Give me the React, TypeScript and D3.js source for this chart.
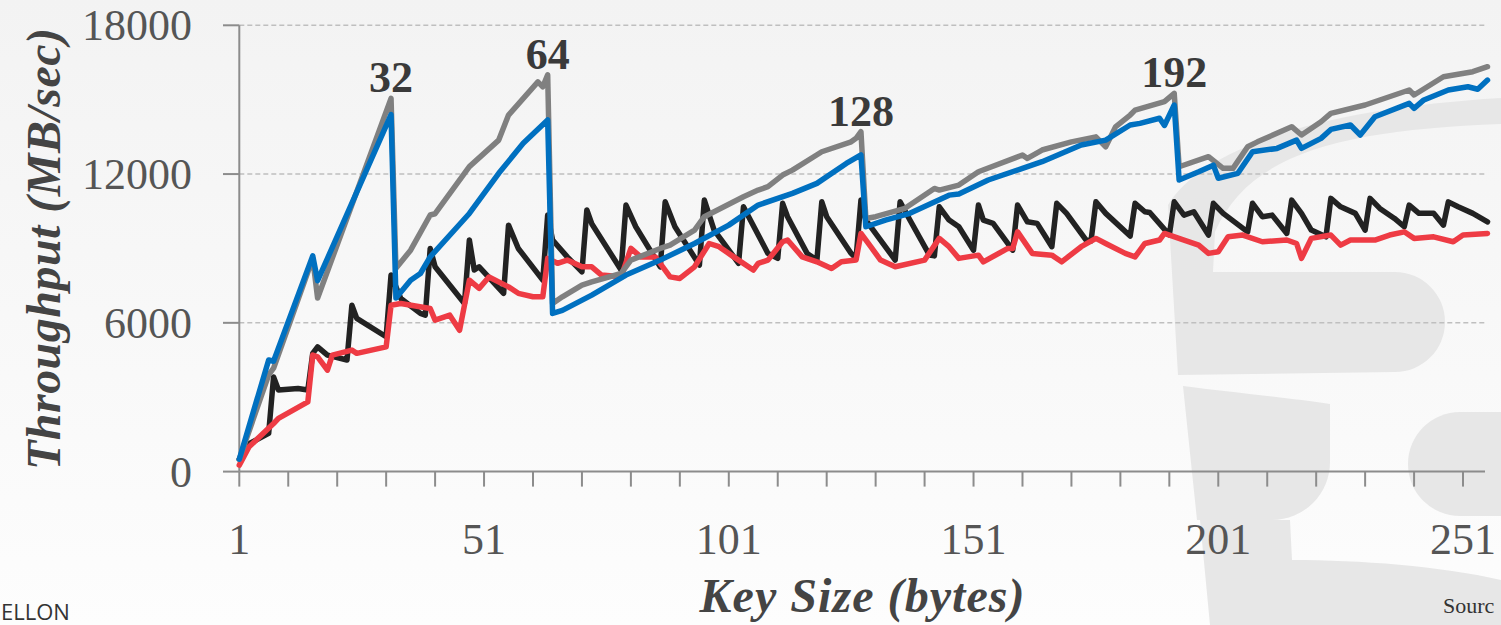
import * as d3 from 'd3'

// key size (bytes) -> throughput (MB/sec)
const blackSeries: [number, number][] = [
  [1, 500], [3, 1130], [7, 1540], [8, 3820], [9, 3290], [13, 3350], [15, 3290],
  [16, 4770], [17, 5030], [19, 4700], [23, 4500], [24, 6710], [25, 6180], [31, 5440],
  [32, 7930], [34, 6980], [38, 6380], [39, 6310], [40, 9000], [41, 8260], [47, 6780],
  [48, 9340], [49, 8130], [50, 8260], [55, 7190], [56, 9940], [58, 9000], [63, 7720],
  [64, 10350], [65, 9340], [68, 8660], [71, 8060], [72, 10550], [73, 10000], [79, 8130],
  [80, 10750], [82, 9875], [87, 8260], [88, 10880], [90, 9875], [95, 8330], [96, 10950],
  [98, 9740], [103, 8400], [104, 10680], [105, 10300], [109, 8800], [111, 8600],
  [112, 10820], [113, 10280], [117, 8800], [119, 8530], [120, 10880], [121, 10280],
  [126, 8800], [127, 8600], [128, 10950], [129, 10145], [132, 9340], [135, 8530],
  [136, 10880], [138, 10145], [142, 8730], [143, 8700], [144, 10680], [146, 10145],
  [148, 9875], [151, 8930], [152, 10750], [153, 10145], [155, 10010], [159, 8930],
  [160, 10750], [162, 10075], [164, 10010], [167, 9070], [168, 10820], [170, 10415],
  [174, 9340], [175, 9300], [176, 10880], [178, 10415], [183, 9500], [184, 10820],
  [186, 10480], [187, 10450], [191, 9550], [192, 10880], [194, 10345], [196, 10480],
  [199, 9540], [200, 10820], [202, 10415], [207, 9670], [208, 10820], [210, 10280],
  [212, 10345], [215, 9605], [216, 10950], [218, 10415], [220, 9740], [223, 9470],
  [224, 11020], [226, 10680], [229, 10415], [231, 9740], [232, 11020], [234, 10615],
  [237, 10210], [239, 9875], [240, 10750], [242, 10415], [245, 10415], [247, 9940],
  [248, 10880], [250, 10680], [253, 10415], [256, 10075],
]

const redSeries: [number, number][] = [
  [1, 260], [3, 1000], [8, 1940], [9, 2150], [15, 2810], [16, 4700], [17, 4630],
  [19, 4090], [20, 4700], [24, 4900], [25, 4770], [31, 5030], [32, 6710], [34, 6780],
  [40, 6580], [41, 6110], [44, 6310], [46, 5700], [48, 7720], [50, 7390], [52, 7850],
  [56, 7450], [58, 7190], [61, 7050], [63, 7050], [64, 8600], [66, 8400], [68, 8530],
  [71, 8260], [73, 8260], [75, 7925], [79, 7855], [81, 9000], [83, 8660], [86, 8660],
  [89, 7855], [91, 7790], [94, 8260], [97, 9200], [99, 9070], [102, 8660], [106, 8130],
  [107, 8400], [109, 8530], [112, 9270], [113, 9340], [116, 8660], [119, 8460],
  [122, 8195], [124, 8460], [127, 8530], [128, 9605], [130, 9070], [132, 8530],
  [135, 8260], [141, 8530], [144, 9405], [146, 9070], [148, 8600], [152, 8730],
  [153, 8460], [158, 9000], [159, 9000], [160, 9670], [163, 8800], [167, 8730],
  [169, 8460], [173, 9070], [176, 9405], [178, 9200], [182, 8800], [184, 8660],
  [186, 9200], [189, 9340], [190, 9605], [194, 9340], [197, 9135], [199, 8800],
  [201, 8865], [203, 9470], [206, 9540], [210, 9270], [215, 9340], [217, 9200],
  [218, 8600], [220, 9405], [224, 9540], [226, 9135], [228, 9340], [233, 9340],
  [236, 9540], [239, 9670], [241, 9405], [245, 9470], [249, 9270], [251, 9540],
  [256, 9605],
]

const graySeries: [number, number][] = [
  [1, 500], [7, 3900], [8, 4170], [16, 8600], [17, 7000], [32, 15050], [33, 8200],
  [36, 8930], [40, 10350], [41, 10400], [48, 12300], [54, 13370], [56, 14380],
  [62, 15720], [63, 15520], [64, 16000], [65, 6780], [67, 7050], [71, 7520], [73, 7650],
  [79, 7990], [81, 8530], [87, 9000], [89, 9135], [94, 9740], [96, 10280], [104, 11085],
  [107, 11355], [109, 11490], [112, 11960], [114, 12160], [120, 12900], [126, 13300],
  [127, 13440], [128, 13707], [129, 10210], [131, 10280], [137, 10620], [143, 11420],
  [144, 11355], [148, 11556], [152, 12093], [161, 12770], [162, 12630], [165, 12970],
  [171, 13300], [176, 13500], [178, 13100], [180, 13900], [183, 14380], [184, 14580],
  [190, 14920], [192, 15255], [193, 12295], [199, 12700], [202, 12230], [204, 12230],
  [207, 13100], [209, 13300], [216, 13910], [218, 13575], [222, 14110], [224, 14450],
  [231, 14785], [240, 15390], [241, 15190], [247, 15925], [253, 16130], [256, 16330],
]

const blueSeries: [number, number][] = [
  [1, 500], [7, 4500], [8, 4450], [16, 8700], [17, 7700], [32, 14400], [33, 7000],
  [36, 7720], [38, 7990], [40, 8660], [48, 10410], [54, 12030], [59, 13240], [64, 14180],
  [65, 6380], [67, 6500], [73, 7120], [80, 7925], [87, 8530], [94, 9200], [101, 9940],
  [107, 10750], [114, 11220], [119, 11625], [125, 12430], [128, 12770], [129, 9875],
  [133, 10145], [138, 10415], [146, 11150], [148, 11200], [154, 11760], [161, 12230],
  [165, 12500], [173, 13170], [178, 13370], [183, 13980], [185, 14045], [189, 14250],
  [190, 13960], [192, 14785], [193, 11760], [197, 12090], [200, 12360], [201, 11830],
  [205, 12030], [208, 12900], [213, 13035], [217, 13370], [218, 13035], [222, 13440],
  [224, 13800], [228, 13980], [230, 13575], [233, 14310], [240, 14850], [241, 14650],
  [243, 14990], [248, 15390], [252, 15520], [254, 15420], [256, 15790],
]

const peakLabels = [32, 64, 128, 192]
const yTicks = [0, 6000, 12000, 18000]
const xTickLabels = [1, 51, 101, 151, 201, 251]

const W = 1501
const H = 625
const serif = '"Liberation Serif", "DejaVu Serif", serif'

const x = d3.scaleLinear().domain([1, 256]).range([239.3, 1487.5])
const y = d3.scaleLinear().domain([0, 18000]).range([471.6, 25.3])

const line = d3.line<[number, number]>()
  .x(d => x(d[0]))
  .y(d => y(d[1]))

const xMinor = d3.range(1, 256, 10)

const series = [
  { data: blackSeries, color: '#222222' },
  { data: redSeries, color: '#ee3b44' },
  { data: graySeries, color: '#808080' },
  { data: blueSeries, color: '#0070c0' },
]

const App = () => {
  return (
    <svg width={W} height={H} style={{ position: 'absolute', left: 0, top: 0, display: 'block' }}>
      <defs>
        <linearGradient id='bg' x1='0' y1='0' x2='0' y2='1'>
          <stop offset='0%' stopColor='#f3f3f3' />
          <stop offset='100%' stopColor='#fdfdfd' />
        </linearGradient>
      </defs>
      <rect x={0} y={0} width={W} height={H} fill='url(#bg)' />

      {/* faint logo watermark */}
      <g fill='#e7e7e7'>
        <path d='M1168,205 C1205,145 1330,108 1501,98 L1501,124 C1350,130 1250,150 1215,232 L1213,272 L1395,272 A50,50 0 0 1 1395,372 L1178,375 Z' />
        <path d='M1183,386 C1230,392 1290,398 1330,404 L1330,462 A58,58 0 0 1 1272,520 L1197,520 Z' />
        <path d='M1501,412 L1460,412 A52,52 0 0 0 1460,516 L1501,516 Z' />
        <path d='M1200,520 L1290,520 L1292,560 C1360,560 1440,566 1501,580 L1501,625 L1210,625 Z' />
      </g>

      {/* grid */}
      {yTicks.filter(t => t > 0).map(t => (
        <line key={t} x1={x(1)} x2={1485} y1={y(t)} y2={y(t)}
          stroke='#bfbfbf' strokeWidth={1.5} strokeDasharray='5,3' />
      ))}

      {/* axes */}
      <line x1={x(1)} x2={x(1)} y1={y(18000)} y2={y(0)} stroke='#8c8c8c' strokeWidth={2} />
      <line x1={x(1)} x2={1485} y1={y(0)} y2={y(0)} stroke='#8c8c8c' strokeWidth={2} />
      {yTicks.map(t => (
        <g key={t}>
          <line x1={223} x2={x(1)} y1={y(t)} y2={y(t)} stroke='#8c8c8c' strokeWidth={2} />
          <text x={192} y={y(t) + 15} textAnchor='end' fontFamily={serif} fontSize={44} fill='#555'>{t}</text>
        </g>
      ))}
      {xMinor.map(k => (
        <line key={k} x1={x(k)} x2={x(k)} y1={y(0)} y2={y(0) + 15} stroke='#8c8c8c' strokeWidth={2} />
      ))}
      {xTickLabels.map(k => (
        <text key={k} x={x(k)} y={554} textAnchor='middle' fontFamily={serif} fontSize={44} fill='#555'>{k}</text>
      ))}

      {/* lines */}
      {series.map((s, i) => (
        <path key={i} d={line(s.data) ?? ''} fill='none' stroke={s.color}
          strokeWidth={5.5} strokeLinejoin='round' strokeLinecap='round' />
      ))}

      {/* peak labels */}
      {peakLabels.map(k => {
        const v = graySeries.find(d => d[0] === k)?.[1] ?? 0
        return (
          <text key={k} x={x(k)} y={y(v) - 6} textAnchor='middle' fontFamily={serif}
            fontWeight='bold' fontSize={44} fill='#3a3a3a'>{k}</text>
        )
      })}

      {/* axis titles */}
      <text transform='translate(60,249) rotate(-90)' textAnchor='middle' fontFamily={serif}
        fontWeight='bold' fontStyle='italic' fontSize={48} fill='#444'
        textLength={442} lengthAdjust='spacing'>Throughput (MB/sec)</text>
      <text x={862} y={612} textAnchor='middle' fontFamily={serif}
        fontWeight='bold' fontStyle='italic' fontSize={48} fill='#444'
        textLength={325} lengthAdjust='spacing'>Key Size (bytes)</text>

      {/* footer fragments */}
      <text x={1} y={620} fontFamily='"Open Sans", "Noto Sans", sans-serif' fontSize={22} fill='#333'>ELLON</text>
      <text x={1443} y={613} fontFamily={serif} fontSize={22} fill='#333'>Sourc</text>
    </svg>
  )
}

export default App
